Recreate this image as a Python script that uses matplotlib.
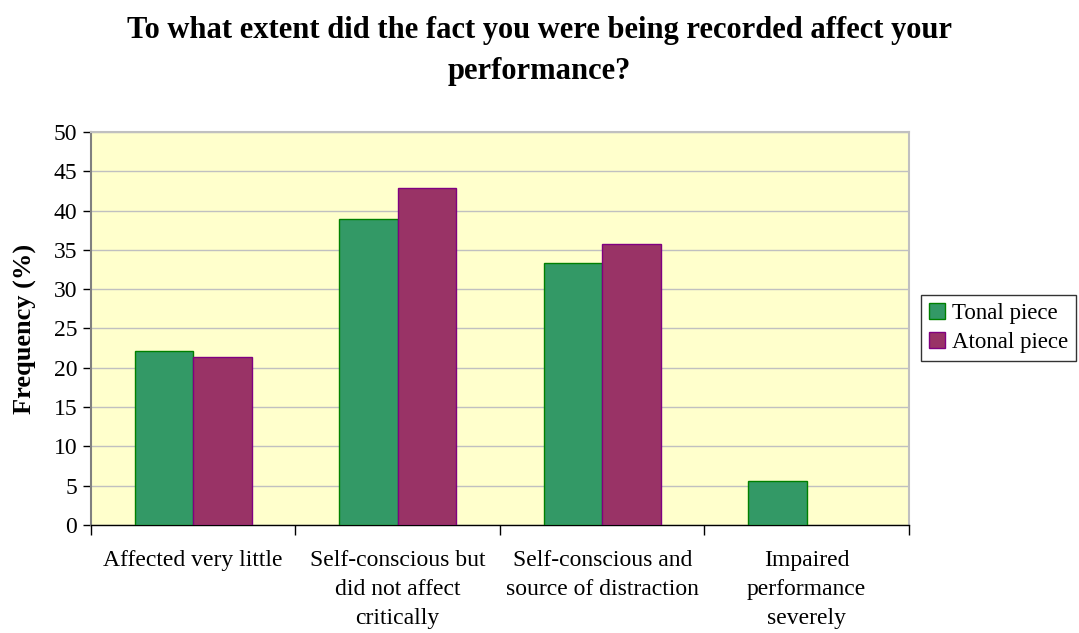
import numpy as np
import matplotlib.pyplot as plt

plt.rcParams['font.family'] = ['Liberation Serif', 'DejaVu Serif']

categories = ['Affected very little',
              'Self-conscious but\ndid not affect\ncritically',
              'Self-conscious and\nsource of distraction',
              'Impaired\nperformance\nseverely']
tonal = [22.2, 38.9, 33.3, 5.6]
atonal = [21.4, 42.9, 35.7, 0.0]
series_names = ['Tonal piece', 'Atonal piece']

fig = plt.figure(figsize=(10.79, 6.33), dpi=100)
ax = fig.add_axes([0.0843, 0.1706, 0.7581, 0.6209])
ax.set_facecolor('#ffffcc')

x = np.arange(len(categories))
w = 1 / 3.5
# no outline on empty bars
lw_t = [1.0 if v > 0 else 0 for v in tonal]
lw_a = [1.0 if v > 0 else 0 for v in atonal]
ax.bar(x - w / 2, tonal, w, color='#339966', edgecolor='#008000',
       linewidth=lw_t, label=series_names[0], zorder=3)
ax.bar(x + w / 2, atonal, w, color='#993366', edgecolor='#800080',
       linewidth=lw_a, label=series_names[1], zorder=3)

ax.set_xlim(-0.5, len(categories) - 0.5)
ax.set_ylim(0, 50)
ax.set_yticks(np.arange(0, 51, 5))
ax.yaxis.grid(True, color='#c0c0c0', linewidth=1.0, zorder=0)
ax.set_axisbelow(True)

# category labels sit between the boundary ticks
ax.set_xticks(np.arange(-0.5, len(categories)), minor=False)
ax.set_xticklabels([])
ax.set_xticks(x, minor=True)
ax.set_xticklabels(categories, minor=True, fontsize=17, linespacing=1.5,
                   va='top')
ax.tick_params(axis='x', which='minor', length=0, pad=18)
ax.tick_params(axis='x', which='major', length=7, width=1, color='black',
               direction='out')
ax.tick_params(axis='y', length=6, width=1, direction='out',
               labelsize=17, pad=4)

for s in ['top', 'right']:
    ax.spines[s].set_color('#c0c0c0')
    ax.spines[s].set_linewidth(1.5)
ax.spines['left'].set_color('#808080')
ax.spines['left'].set_linewidth(1.5)
ax.spines['bottom'].set_color('black')
ax.spines['bottom'].set_linewidth(1.0)

ax.set_ylabel('Frequency (%)', fontsize=19, fontweight='bold', labelpad=12)

fig.suptitle('To what extent did the fact you were being recorded affect your\n'
             'performance?', fontsize=22, fontweight='bold', y=0.975,
             linespacing=1.55)

leg = fig.legend(loc='center left', bbox_to_anchor=(921 / 1079, 1 - 328 / 633),
                 fontsize=16.5, frameon=True, fancybox=False,
                 handlelength=0.7, handleheight=0.7, handletextpad=0.3,
                 borderpad=0.35, labelspacing=0.35, borderaxespad=0)
leg.get_frame().set_edgecolor('black')
leg.get_frame().set_linewidth(1.0)

fig.savefig('out.png', dpi=100, facecolor='white')
